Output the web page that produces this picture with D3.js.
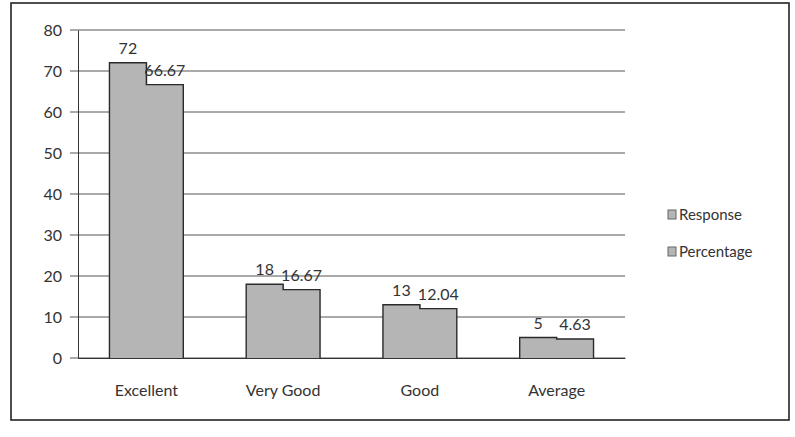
<!DOCTYPE html>
<meta charset="UTF-8">
<style>
  body { margin: 0; background: #fff; }
  text { font-family: Lato, "Open Sans", sans-serif; fill: #333; }
</style>
<svg width="795" height="437"></svg>
<script src="https://d3js.org/d3.v7.min.js"></script>
<script>
  const categories = ['Excellent', 'Very Good', 'Good', 'Average'];
  const seriesNames = ['Response', 'Percentage'];
  const response = [72, 18, 13, 5];
  const percentage = [66.67, 16.67, 12.04, 4.63];
  const yTicks = [0, 10, 20, 30, 40, 50, 60, 70, 80];

  const svg = d3.select('svg');
  const margin = { left: 78, right: 170, top: 30, bottom: 79 };
  const W = 795, H = 437;

  // outer frame
  svg.append('rect')
    .attr('x', 11).attr('y', 3).attr('width', 778).attr('height', 417)
    .attr('fill', 'none').attr('stroke', '#222').attr('stroke-width', 1.6);

  const x = d3.scaleBand().domain(categories)
    .range([margin.left, W - margin.right]).paddingInner(0.46).paddingOuter(0.23);
  const x1 = d3.scaleBand().domain(seriesNames).range([0, x.bandwidth()]);
  const y = d3.scaleLinear().domain([0, 80]).range([H - margin.bottom, margin.top]);

  // gridlines
  svg.append('g').selectAll('line').data(yTicks).join('line')
    .attr('x1', margin.left - 8).attr('x2', W - margin.right)
    .attr('y1', d => y(d)).attr('y2', d => y(d))
    .attr('stroke', '#555').attr('stroke-width', 1);

  // y axis
  const yAxis = svg.append('g').attr('transform', `translate(${margin.left},0)`)
    .call(d3.axisLeft(y).tickValues(yTicks).tickSize(0).tickPadding(16));
  yAxis.select('.domain').attr('stroke', '#333');
  yAxis.selectAll('text').style('font-size', '16px').attr('fill', '#333');

  const rows = categories.map((c, i) => ({ cat: c, vals: [response[i], percentage[i]] }));

  const groups = svg.append('g').selectAll('g').data(rows).join('g')
    .attr('transform', d => `translate(${x(d.cat)},0)`);

  // bars overlap by a pixel so no seam shows between the pair
  groups.selectAll('rect').data(d => d.vals.map((v, j) => ({ s: seriesNames[j], v })))
    .join('rect')
    .attr('x', d => x1(d.s) - (d.s === 'Percentage' ? 1 : 0))
    .attr('width', x1.bandwidth() + 1)
    .attr('y', d => y(d.v)).attr('height', d => y(0) - y(d.v))
    .attr('fill', '#b5b5b5');

  // outline of each pair (no divider between the two bars)
  groups.append('path')
    .attr('d', d => {
      const a = x1('Response'), m = x1('Percentage'), b = m + x1.bandwidth();
      return `M${a},${y(0)}V${y(d.vals[0])}H${m}V${y(d.vals[1])}H${b}V${y(0)}`;
    })
    .attr('fill', 'none').attr('stroke', '#2a2a2a').attr('stroke-width', 1.4);

  groups.selectAll('text.lbl').data(d => d.vals.map((v, j) => ({ s: seriesNames[j], v })))
    .join('text').attr('class', 'lbl')
    .attr('x', d => x1(d.s) + x1.bandwidth() / 2)
    .attr('y', d => y(d.v) - 9)
    .attr('text-anchor', 'middle')
    .style('font-size', '16px')
    .text(d => d.v);

  // x axis
  const xAxis = svg.append('g').attr('transform', `translate(0,${y(0)})`)
    .call(d3.axisBottom(x).tickSize(0).tickPadding(27));
  xAxis.select('.domain').attr('stroke', '#333');
  xAxis.selectAll('text').style('font-size', '16px').attr('fill', '#333');

  // legend
  const legend = svg.append('g').selectAll('g').data(seriesNames).join('g')
    .attr('transform', (d, i) => `translate(668,${220 + i * 37})`);
  legend.append('rect').attr('x', 0).attr('y', -10).attr('width', 8).attr('height', 9)
    .attr('fill', '#b5b5b5').attr('stroke', '#666');
  legend.append('text').attr('x', 11).attr('y', 0)
    .style('font-size', '15px').text(d => d);
</script>
